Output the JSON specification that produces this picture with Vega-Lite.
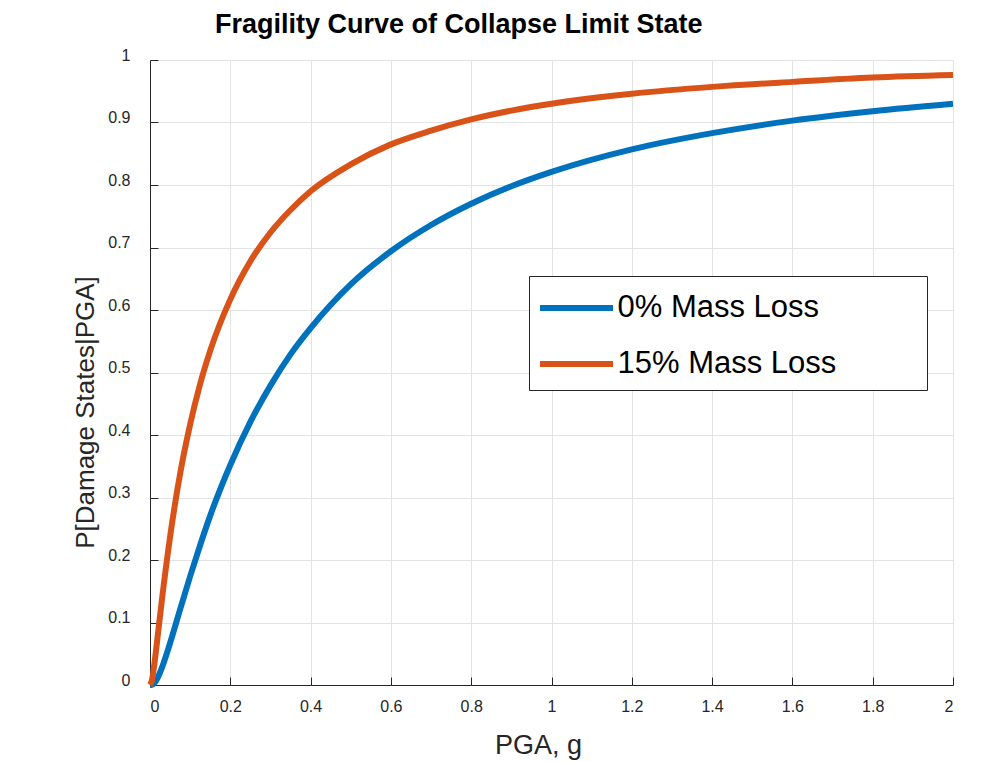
{
  "$schema": "https://vega.github.io/schema/vega-lite/v6.json",
  "width": 803,
  "height": 625,
  "autosize": "none",
  "padding": {"left": 150, "top": 60, "right": 39, "bottom": 77},
  "background": "white",
  "config": {
    "view": {"stroke": null},
    "font": "Liberation Sans"
  },
  "title": {
    "text": "Fragility Curve of Collapse Limit State",
    "anchor": "start",
    "frame": "group",
    "dx": 65,
    "dy": 40,
    "baseline": "alphabetic",
    "offset": 27,
    "fontSize": 27,
    "fontWeight": "bold",
    "font": "Liberation Sans",
    "color": "black"
  },
  "data": {
    "values": [
      {"pga": 0, "p": 0, "series": "0% Mass Loss"},
      {"pga": 0.005, "p": 0.0003, "series": "0% Mass Loss"},
      {"pga": 0.01, "p": 0.0026, "series": "0% Mass Loss"},
      {"pga": 0.02, "p": 0.0127, "series": "0% Mass Loss"},
      {"pga": 0.03, "p": 0.0281, "series": "0% Mass Loss"},
      {"pga": 0.05, "p": 0.0672, "series": "0% Mass Loss"},
      {"pga": 0.075, "p": 0.121, "series": "0% Mass Loss"},
      {"pga": 0.1, "p": 0.174, "series": "0% Mass Loss"},
      {"pga": 0.125, "p": 0.224, "series": "0% Mass Loss"},
      {"pga": 0.15, "p": 0.271, "series": "0% Mass Loss"},
      {"pga": 0.2, "p": 0.352, "series": "0% Mass Loss"},
      {"pga": 0.25, "p": 0.421, "series": "0% Mass Loss"},
      {"pga": 0.3, "p": 0.479, "series": "0% Mass Loss"},
      {"pga": 0.35, "p": 0.529, "series": "0% Mass Loss"},
      {"pga": 0.4, "p": 0.571, "series": "0% Mass Loss"},
      {"pga": 0.5, "p": 0.641, "series": "0% Mass Loss"},
      {"pga": 0.6, "p": 0.694, "series": "0% Mass Loss"},
      {"pga": 0.7, "p": 0.736, "series": "0% Mass Loss"},
      {"pga": 0.8, "p": 0.770, "series": "0% Mass Loss"},
      {"pga": 0.9, "p": 0.798, "series": "0% Mass Loss"},
      {"pga": 1.0, "p": 0.821, "series": "0% Mass Loss"},
      {"pga": 1.2, "p": 0.857, "series": "0% Mass Loss"},
      {"pga": 1.4, "p": 0.883, "series": "0% Mass Loss"},
      {"pga": 1.6, "p": 0.903, "series": "0% Mass Loss"},
      {"pga": 1.8, "p": 0.918, "series": "0% Mass Loss"},
      {"pga": 2.0, "p": 0.930, "series": "0% Mass Loss"},
      {"pga": 0, "p": 0, "series": "15% Mass Loss"},
      {"pga": 0.005, "p": 0.008, "series": "15% Mass Loss"},
      {"pga": 0.01, "p": 0.0293, "series": "15% Mass Loss"},
      {"pga": 0.02, "p": 0.083, "series": "15% Mass Loss"},
      {"pga": 0.03, "p": 0.138, "series": "15% Mass Loss"},
      {"pga": 0.05, "p": 0.237, "series": "15% Mass Loss"},
      {"pga": 0.075, "p": 0.338, "series": "15% Mass Loss"},
      {"pga": 0.1, "p": 0.417, "series": "15% Mass Loss"},
      {"pga": 0.125, "p": 0.482, "series": "15% Mass Loss"},
      {"pga": 0.15, "p": 0.535, "series": "15% Mass Loss"},
      {"pga": 0.2, "p": 0.617, "series": "15% Mass Loss"},
      {"pga": 0.25, "p": 0.678, "series": "15% Mass Loss"},
      {"pga": 0.3, "p": 0.724, "series": "15% Mass Loss"},
      {"pga": 0.35, "p": 0.760, "series": "15% Mass Loss"},
      {"pga": 0.4, "p": 0.790, "series": "15% Mass Loss"},
      {"pga": 0.5, "p": 0.833, "series": "15% Mass Loss"},
      {"pga": 0.6, "p": 0.865, "series": "15% Mass Loss"},
      {"pga": 0.7, "p": 0.887, "series": "15% Mass Loss"},
      {"pga": 0.8, "p": 0.905, "series": "15% Mass Loss"},
      {"pga": 0.9, "p": 0.919, "series": "15% Mass Loss"},
      {"pga": 1.0, "p": 0.930, "series": "15% Mass Loss"},
      {"pga": 1.2, "p": 0.946, "series": "15% Mass Loss"},
      {"pga": 1.4, "p": 0.957, "series": "15% Mass Loss"},
      {"pga": 1.6, "p": 0.965, "series": "15% Mass Loss"},
      {"pga": 1.8, "p": 0.972, "series": "15% Mass Loss"},
      {"pga": 2.0, "p": 0.976, "series": "15% Mass Loss"}
    ]
  },
  "mark": {"type": "line", "strokeWidth": 6, "interpolate": "monotone", "clip": false},
  "encoding": {
    "x": {
      "field": "pga",
      "type": "quantitative",
      "scale": {"domain": [0, 2], "nice": false, "zero": false},
      "axis": {
        "title": "PGA, g",
        "values": [0, 0.2, 0.4, 0.6, 0.8, 1, 1.2, 1.4, 1.6, 1.8, 2],
        "format": "~g",
        "grid": true,
        "gridColor": "#e3e3e3",
        "gridWidth": 1,
        "domainColor": "#262626",
        "domainWidth": 1,
        "tickColor": "#262626",
        "tickSize": -8,
        "tickWidth": 1,
        "labelFontSize": 16,
        "labelColor": "#262626",
        "labelPadding": 21,
        "labelFont": "Liberation Sans",
        "titleFont": "Liberation Sans",
        "titleFontSize": 27,
        "titleFontWeight": "normal",
        "titleColor": "#262626",
        "titleX": 388,
        "titleY": 68,
        "titleBaseline": "alphabetic",
        "titleAnchor": "middle"
      }
    },
    "y": {
      "field": "p",
      "type": "quantitative",
      "scale": {"domain": [0, 1], "nice": false, "zero": false},
      "axis": {
        "title": "P[Damage States|PGA]",
        "values": [0, 0.1, 0.2, 0.3, 0.4, 0.5, 0.6, 0.7, 0.8, 0.9, 1],
        "format": "~g",
        "grid": true,
        "gridColor": "#e3e3e3",
        "gridWidth": 1,
        "domainColor": "#262626",
        "domainWidth": 1,
        "tickColor": "#262626",
        "tickSize": -8,
        "tickWidth": 1,
        "labelFontSize": 16,
        "labelColor": "#262626",
        "labelPadding": 28,
        "labelOffset": -5,
        "labelFont": "Liberation Sans",
        "titleFont": "Liberation Sans",
        "titleFontSize": 26,
        "titleFontWeight": "normal",
        "titleColor": "#262626",
        "titleX": -57,
        "titleY": 352,
        "titleBaseline": "alphabetic",
        "titleAngle": -90,
        "titleAnchor": "middle"
      }
    },
    "color": {
      "field": "series",
      "type": "nominal",
      "scale": {"domain": ["0% Mass Loss", "15% Mass Loss"], "range": ["#0072BD", "#D95319"]},
      "legend": {
        "title": "\u00a0",
        "titleOrient": "right",
        "titleFontSize": 1,
        "titlePadding": 80,
        "orient": "none",
        "legendX": 379,
        "legendY": 216,
        "symbolType": "M-2.028,0L2.028,0",
        "symbolSize": 1296,
        "symbolStrokeWidth": 6,
        "symbolOffset": 15.5,
        "labelFontSize": 31,
        "labelFont": "Liberation Sans",
        "labelColor": "black",
        "labelOffset": 20,
        "labelLimit": 400,
        "rowPadding": 20,
        "padding": 11,
        "strokeColor": "#262626",
        "fillColor": "white"
      }
    }
  }
}
